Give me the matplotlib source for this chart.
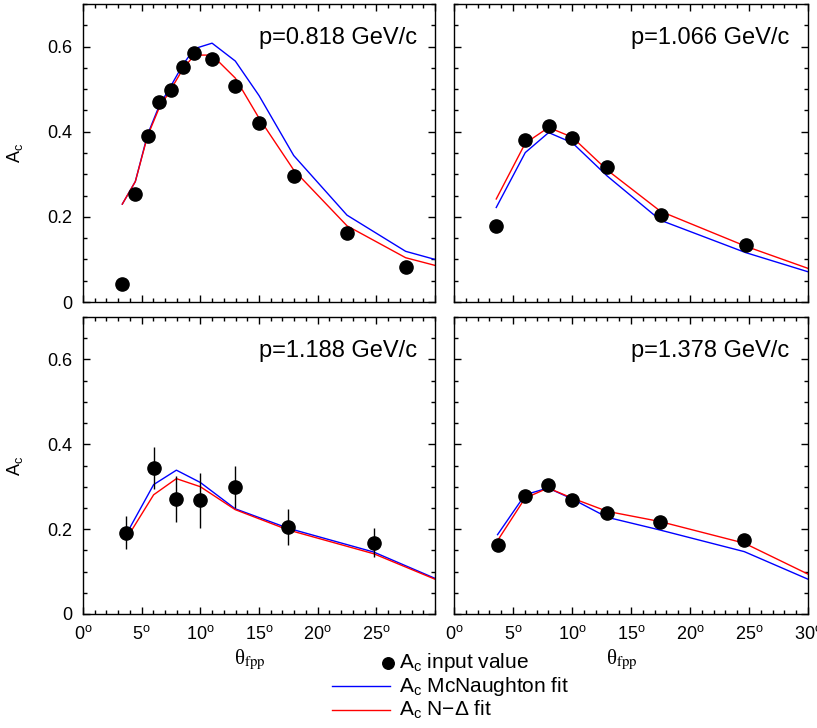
import matplotlib

matplotlib.use("Agg")
import matplotlib.pyplot as plt
from matplotlib.lines import Line2D
from matplotlib.ticker import MultipleLocator

plt.rcParams["font.family"] = ["Liberation Sans", "DejaVu Sans"]
plt.rcParams["mathtext.fontset"] = "custom"
plt.rcParams["mathtext.rm"] = "Liberation Sans"
plt.rcParams["mathtext.it"] = "Liberation Sans:italic"

# --- data ---
momenta = ["p=0.818 GeV/c", "p=1.066 GeV/c", "p=1.188 GeV/c", "p=1.378 GeV/c"]

theta_818 = [3.35, 4.46, 5.5, 6.48, 7.5, 8.53, 9.49, 11.0, 12.98, 15.0, 17.96, 22.5, 27.5]
ac_818 = [0.043, 0.253, 0.391, 0.469, 0.498, 0.553, 0.584, 0.570, 0.508, 0.420, 0.296, 0.163, 0.082]
err_818 = [0.0] * 13
fit_x_818 = [3.35, 4.46, 5.5, 6.48, 7.5, 8.53, 9.49, 11.0, 12.98, 15.0, 17.96, 22.5, 27.5, 30.0]
mcn_818 = [0.230, 0.283, 0.393, 0.460, 0.508, 0.558, 0.595, 0.608, 0.566, 0.485, 0.344, 0.204, 0.119, 0.100]
nd_818 = [0.230, 0.283, 0.390, 0.455, 0.500, 0.548, 0.580, 0.580, 0.526, 0.432, 0.310, 0.179, 0.104, 0.086]

theta_1066 = [3.58, 6.04, 8.02, 10.03, 12.98, 17.5, 24.72]
ac_1066 = [0.179, 0.380, 0.414, 0.386, 0.316, 0.204, 0.135]
err_1066 = [0.0] * 7
fit_x_1066 = [3.58, 6.04, 8.02, 10.03, 12.98, 17.5, 24.72, 30.0]
mcn_1066 = [0.222, 0.351, 0.398, 0.374, 0.296, 0.192, 0.116, 0.071]
nd_1066 = [0.242, 0.373, 0.410, 0.387, 0.310, 0.213, 0.131, 0.079]

theta_1188 = [3.67, 6.02, 7.96, 10.0, 12.97, 17.5, 24.78]
ac_1188 = [0.192, 0.344, 0.271, 0.268, 0.299, 0.205, 0.168]
err_1188 = [0.038, 0.050, 0.055, 0.065, 0.049, 0.043, 0.034]
fit_x_1188 = [3.67, 6.02, 7.96, 10.0, 12.97, 17.5, 24.78, 30.0]
mcn_1188 = [0.187, 0.305, 0.339, 0.310, 0.248, 0.202, 0.146, 0.084]
nd_1188 = [0.176, 0.281, 0.319, 0.300, 0.246, 0.198, 0.142, 0.082]

theta_1378 = [3.69, 6.02, 7.97, 10.03, 12.98, 17.45, 24.6]
ac_1378 = [0.163, 0.279, 0.305, 0.269, 0.239, 0.218, 0.175]
err_1378 = [0.0] * 7
fit_x_1378 = [3.69, 6.02, 7.97, 10.03, 12.98, 17.45, 24.6, 30.0]
mcn_1378 = [0.187, 0.281, 0.297, 0.271, 0.228, 0.198, 0.147, 0.082]
nd_1378 = [0.173, 0.273, 0.297, 0.273, 0.242, 0.218, 0.167, 0.094]

panels = [
    (theta_818, ac_818, err_818, fit_x_818, mcn_818, nd_818),
    (theta_1066, ac_1066, err_1066, fit_x_1066, mcn_1066, nd_1066),
    (theta_1188, ac_1188, err_1188, fit_x_1188, mcn_1188, nd_1188),
    (theta_1378, ac_1378, err_1378, fit_x_1378, mcn_1378, nd_1378),
]

fig = plt.figure(figsize=(8.17, 7.28), dpi=100)
W, H = 817.0, 728.0
# pixel boxes (left, top, right, bottom)
boxes = [(83, 4, 435, 302), (454, 4, 808, 302), (83, 317, 435, 614), (454, 317, 808, 614)]

for i, ((th, ac, err, fx, mcn, nd), (l, t, r, b)) in enumerate(zip(panels, boxes)):
    ax = fig.add_axes([l / W, 1 - b / H, (r - l) / W, (b - t) / H])
    ax.plot(fx, mcn, color="#0000ff", lw=1.0)
    ax.plot(fx, nd, color="#ff0000", lw=1.0)
    ax.errorbar(th, ac, yerr=err if any(err) else None,
                fmt="o", color="black", ms=9.5, elinewidth=1.0, capsize=0)
    ax.set_xlim(0, 30)
    ax.set_ylim(0, 0.7)
    ax.xaxis.set_major_locator(MultipleLocator(5))
    ax.xaxis.set_minor_locator(MultipleLocator(1))
    ax.yaxis.set_major_locator(MultipleLocator(0.2))
    ax.yaxis.set_minor_locator(MultipleLocator(0.05))
    ax.tick_params(which="both", direction="in", top=True, right=True, width=1.0)
    ax.tick_params(which="major", length=5, labelsize=13, pad=8)
    ax.tick_params(which="minor", length=3)
    for s in ax.spines.values():
        s.set_linewidth(1.0)
    ax.text(0.948, 0.886, momenta[i], transform=ax.transAxes, ha="right", va="center", fontsize=17)

    if i % 2 == 0:
        ax.set_yticks([0, 0.2, 0.4, 0.6])
        ax.set_yticklabels(["0", "0.2", "0.4", "0.6"])
        ax.set_ylabel(r"$\mathrm{A_c}$", fontsize=13, labelpad=16)
    else:
        ax.set_yticklabels([])
    if i >= 2:
        ticks = [0, 5, 10, 15, 20, 25] if i == 2 else [0, 5, 10, 15, 20, 25, 30]
        ax.set_xticks(ticks)
        ax.set_xticklabels([rf"${v}^{{\mathrm{{o}}}}$" for v in ticks])
        ax.set_xlabel(r"θ$_{\mathrm{fpp}}$", fontsize=15, family="Liberation Serif",
                      math_fontfamily="stix")
        ax.xaxis.set_label_coords(0.475, -0.115)
    else:
        ax.set_xticklabels([])

# legend below the panels
fig.add_artist(Line2D([387.5 / W], [1 - 663 / H], marker="o", color="black", ms=8.3, ls="none"))
fig.add_artist(Line2D([332 / W, 390 / W], [1 - 686 / H] * 2, color="#0000ff", lw=1.0))
fig.add_artist(Line2D([332 / W, 390 / W], [1 - 710 / H] * 2, color="#ff0000", lw=1.0))
leg_labels = [r"$\mathrm{A_c}$ input value", r"$\mathrm{A_c}$ McNaughton fit", r"$\mathrm{A_c}$ N$-\Delta$ fit"]
for lab, y in zip(leg_labels, [663, 686, 710]):
    fig.text(399 / W, 1 - y / H, lab, ha="left", va="center", fontsize=15)

fig.savefig("out.png", dpi=100)
plt.close(fig)
